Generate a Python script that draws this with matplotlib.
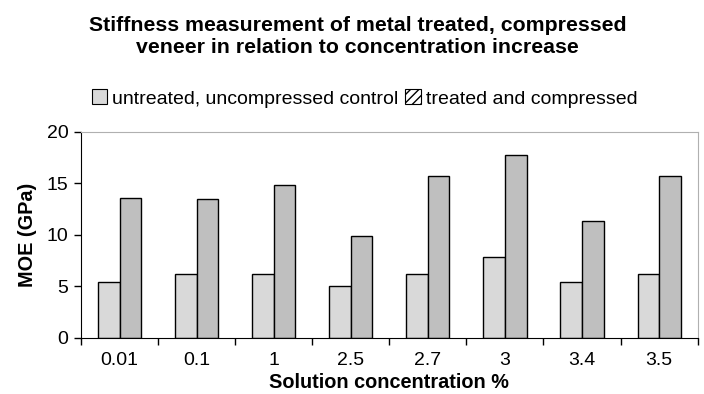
import matplotlib
matplotlib.use("Agg")
import matplotlib.pyplot as plt
from matplotlib.patches import Patch
import numpy as np

plt.rcParams['font.family'] = ['Liberation Sans', 'DejaVu Sans']
plt.rcParams['hatch.linewidth'] = 1.0

# MOE readings per solution concentration
concentrations = ['0.01', '0.1', '1', '2.5', '2.7', '3', '3.4', '3.5']
control_moe = [5.4, 6.2, 6.2, 5.0, 6.2, 7.8, 5.4, 6.2]
treated_moe = [13.6, 13.5, 14.8, 9.9, 15.7, 17.8, 11.3, 15.7]

x = np.arange(len(concentrations))
w = 0.28

fig = plt.figure(figsize=(7.04, 3.94), dpi=100)
ax = fig.add_axes([0.115, 0.143, 0.876, 0.522])

ax.bar(x - w / 2, control_moe, w, color='#d9d9d9', edgecolor='black', linewidth=1.0)
ax.bar(x + w / 2, treated_moe, w, color='#bfbfbf', edgecolor='black', linewidth=1.0)

ax.set_xlim(-0.5, len(concentrations) - 0.5)
ax.set_ylim(0, 20)
ax.set_yticks([0, 5, 10, 15, 20])
ax.set_xticks(x)
ax.set_xticklabels(concentrations)
ax.set_xticks(np.arange(len(concentrations) + 1) - 0.5, minor=True)
ax.tick_params(axis='x', which='major', length=0, pad=10, labelsize=14)
ax.tick_params(axis='x', which='minor', length=5, direction='out', width=1)
ax.tick_params(axis='y', length=5, direction='out', width=1, labelsize=14, pad=4)

for side in ['top', 'right']:
    ax.spines[side].set_color('#b0b0b0')
for side in ['left', 'bottom']:
    ax.spines[side].set_color('black')

ax.set_ylabel('MOE (GPa)', fontsize=14.3, fontweight='bold', labelpad=7)
ax.set_xlabel('Solution concentration %', fontsize=14.3, fontweight='bold', labelpad=3)

fig.text(0.508, 0.908, 'Stiffness measurement of metal treated, compressed\nveneer in relation to concentration increase',
         ha='center', va='center', fontsize=15.3, fontweight='bold', linespacing=1.2)

handles = [Patch(facecolor='#d9d9d9', edgecolor='black', linewidth=0.8),
           Patch(facecolor='white', edgecolor='black', hatch='////', linewidth=0.8)]
fig.legend(handles, ['untreated, uncompressed control', 'treated and compressed'],
           loc='center', bbox_to_anchor=(0.518, 0.75), ncol=2, frameon=False,
           fontsize=14, handlelength=0.8, handleheight=0.8, handletextpad=0.25,
           columnspacing=0.35, borderpad=0)

fig.savefig('out.png', dpi=100)
